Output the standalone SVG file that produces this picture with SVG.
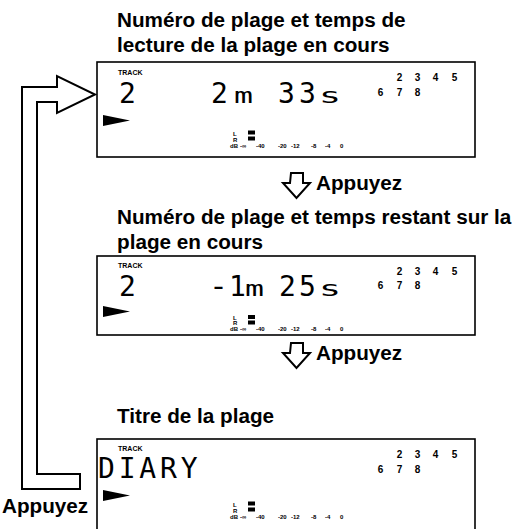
<svg xmlns="http://www.w3.org/2000/svg" width="515" height="529" viewBox="0 0 515 529">
<style>
.h{font-family:"Liberation Sans",Arial,sans-serif;font-weight:bold;font-size:20.7px;fill:#000}
.box{fill:#fff;stroke:#000;stroke-width:1.6}
.trk{font-family:"Liberation Sans",Arial,sans-serif;font-weight:bold;font-size:7px;fill:#000}
.lcd{font-family:"DejaVu Sans Mono",monospace;font-size:28px;fill:#000}
.lcds{font-family:"DejaVu Sans Mono",monospace;font-size:22px;fill:#000}
.num{font-family:"Liberation Sans",Arial,sans-serif;font-weight:bold;font-size:10px;fill:#000;text-anchor:middle}
.mt{font-family:"Liberation Sans",Arial,sans-serif;font-weight:bold;font-size:6px;fill:#000}
.arr{fill:#fff;stroke:#000;stroke-width:2;stroke-linejoin:miter}
</style>

<g id="heading1">
<text class="h" x="117" y="27">Numéro de plage et temps de</text>
<text class="h" x="117" y="52">lecture de la plage en cours</text>
</g>

<g id="display1" transform="translate(0,62)">
<rect class="box" x="97" y="0" width="378" height="95"/>
<text class="trk" x="118" y="13">TRACK</text>
<text class="lcd" x="119" y="41">2</text>
<text class="lcd" x="211" y="41">2</text>
<text class="lcds" x="234" y="41" textLength="19" lengthAdjust="spacingAndGlyphs">m</text>
<text class="lcd" x="278 299" y="41">33</text>
<text class="lcds" x="319" y="41" textLength="22" lengthAdjust="spacingAndGlyphs">s</text>
<text class="num" x="399.5 417.5 435.5 454.5" y="19">2345</text>
<text class="num" x="380.5 399.5 417.5" y="34">678</text>
<polygon points="103,53 130,58.5 103,64" fill="#000"/>
<text class="mt" x="233" y="73.5">L</text>
<text class="mt" x="233" y="79.5">R</text>
<rect x="248" y="68.5" width="7" height="4" fill="#000"/>
<rect x="248" y="74.5" width="7" height="4" fill="#000"/>
<text class="mt" x="230" y="85.5">dB</text>
<text class="mt" x="240" y="85.5">-∞</text>
<text class="mt" x="256" y="85.5">-40</text>
<text class="mt" x="278" y="85.5">-20</text>
<text class="mt" x="291" y="85.5">-12</text>
<text class="mt" x="311" y="85.5">-8</text>
<text class="mt" x="325" y="85.5">-4</text>
<text class="mt" x="340" y="85.5">0</text>
</g>

<g id="heading2">
<text class="h" x="117" y="224">Numéro de plage et temps restant sur la</text>
<text class="h" x="117" y="249">plage en cours</text>
</g>

<g id="display2" transform="translate(0,256)">
<rect class="box" x="97" y="0" width="378" height="79"/>
<text class="trk" x="118" y="12">TRACK</text>
<text class="lcd" x="119" y="40">2</text>
<text class="lcd" x="209" y="40" textLength="19" lengthAdjust="spacingAndGlyphs">-</text>
<text class="lcd" x="229" y="40">1</text>
<text class="lcds" x="245" y="40" textLength="19" lengthAdjust="spacingAndGlyphs">m</text>
<text class="lcd" x="279 299" y="40">25</text>
<text class="lcds" x="319" y="40" textLength="22" lengthAdjust="spacingAndGlyphs">s</text>
<text class="num" x="399.5 417.5 435.5 454.5" y="18.5">2345</text>
<text class="num" x="380.5 399.5 417.5" y="33">678</text>
<polygon points="103,50 130,55.5 103,61" fill="#000"/>
<text class="mt" x="233" y="63.5">L</text>
<text class="mt" x="233" y="69">R</text>
<rect x="248" y="59" width="7" height="4" fill="#000"/>
<rect x="248" y="64.5" width="7" height="4" fill="#000"/>
<text class="mt" x="230" y="74.5">dB</text>
<text class="mt" x="240" y="74.5">-∞</text>
<text class="mt" x="256" y="74.5">-40</text>
<text class="mt" x="278" y="74.5">-20</text>
<text class="mt" x="291" y="74.5">-12</text>
<text class="mt" x="311" y="74.5">-8</text>
<text class="mt" x="325" y="74.5">-4</text>
<text class="mt" x="340" y="74.5">0</text>
</g>

<g id="heading3">
<text class="h" x="117" y="423">Titre de la plage</text>
</g>

<g id="display3" transform="translate(0,439)">
<rect class="box" x="97" y="0" width="378" height="100"/>
<text class="trk" x="118" y="11.5">TRACK</text>
<text class="lcd" x="98" y="39" letter-spacing="3.8">DIARY</text>
<text class="num" x="399.5 417.5 435.5 454.5" y="19">2345</text>
<text class="num" x="380.5 399.5 417.5" y="34">678</text>
<polygon points="103,51 130,56.5 103,62" fill="#000"/>
<text class="mt" x="233" y="67.5">L</text>
<text class="mt" x="233" y="73.5">R</text>
<rect x="248" y="62.5" width="7" height="4" fill="#000"/>
<rect x="248" y="68.5" width="7" height="4" fill="#000"/>
<text class="mt" x="230" y="79.5">dB</text>
<text class="mt" x="240" y="79.5">-∞</text>
<text class="mt" x="256" y="79.5">-40</text>
<text class="mt" x="278" y="79.5">-20</text>
<text class="mt" x="291" y="79.5">-12</text>
<text class="mt" x="311" y="79.5">-8</text>
<text class="mt" x="325" y="79.5">-4</text>
<text class="mt" x="340" y="79.5">0</text>
</g>

<g id="connectors">
<polygon class="arr" points="291,173 303,173 303,183 310,183 296.5,198 283,183 290,183"/>
<text class="h" x="316" y="190">Appuyez</text>
<polygon class="arr" points="291,343 303,343 303,353 310,353 296.5,368 283,353 290,353"/>
<text class="h" x="316" y="360">Appuyez</text>
<polygon class="arr" points="22,489 22,87 57,87 57,76 95,94.5 57,113 57,102 37,102 37,474 80,474 80,489"/>
<text class="h" x="2" y="513">Appuyez</text>
</g>
</svg>
